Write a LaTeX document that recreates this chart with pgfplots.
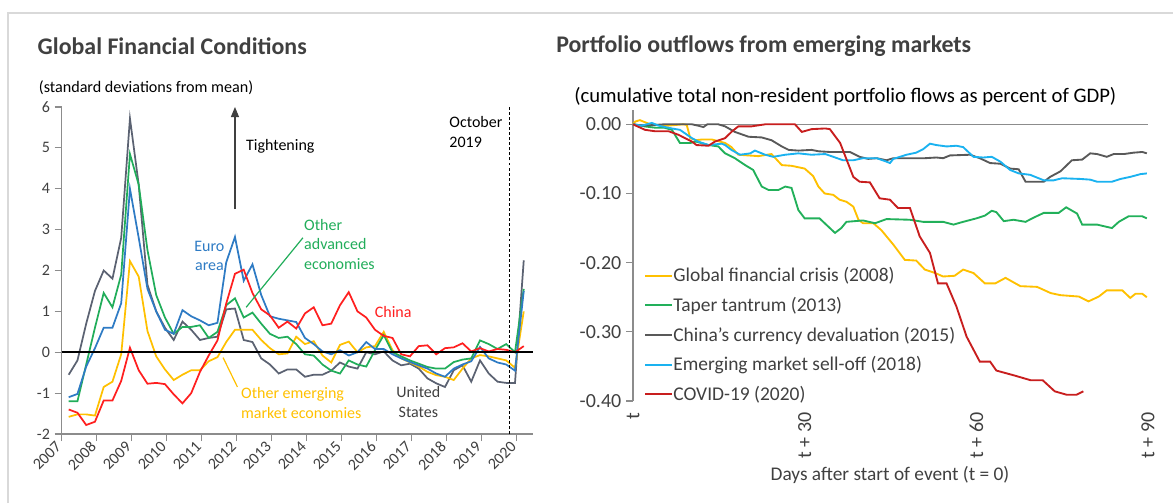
\documentclass[border=0pt]{standalone}
\usepackage{fontspec}
\setmainfont{Carlito}
\usepackage{pgfplots}
\pgfplotsset{compat=1.18}
\usepackage{pgfplotstable}
\usetikzlibrary{arrows.meta}

\definecolor{txt}{HTML}{404040}
\definecolor{axgrey}{HTML}{8C8C8C}
\definecolor{frame}{HTML}{D9D9D9}
\definecolor{euro}{HTML}{2E7BC4}
\definecolor{oadv}{HTML}{21AD5A}
\definecolor{china}{HTML}{FF1F1F}
\definecolor{oem}{HTML}{FFC000}
\definecolor{us}{HTML}{5B6272}
\definecolor{gfc}{HTML}{FFC000}
\definecolor{taper}{HTML}{22B05A}
\definecolor{deval}{HTML}{595959}
\definecolor{selloff}{HTML}{1AB2F0}
\definecolor{covid}{HTML}{C81E1E}

\newcommand\fA{\fontsize{12pt}{14.5pt}\selectfont}
\newcommand\fS{\fontsize{12.1pt}{14.5pt}\selectfont}
\newcommand\fB{\fontsize{15pt}{18pt}\selectfont}
\newcommand\fU{\fontsize{15.5pt}{18pt}\selectfont}
\newcommand\fX{\fontsize{14.5pt}{17pt}\selectfont}
\newcommand\fL{\fontsize{14.6pt}{17pt}\selectfont}
\newcommand\fT{\fontsize{17.9pt}{21pt}\selectfont\bfseries}

\pgfplotstableread{
x euro oadv china oem us
2007.20 -1.10 -1.20 -1.40 -1.58 -0.55
2007.45 -1.02 -1.20 -1.48 -1.52 -0.20
2007.70 -0.35 -0.30 -1.78 -1.52 0.70
2007.95 0.10 0.60 -1.70 -1.55 1.50
2008.20 0.60 1.45 -1.18 -0.85 2.00
2008.45 0.60 1.10 -1.18 -0.72 1.80
2008.70 1.20 1.90 -0.70 -0.05 2.80
2008.95 4.00 4.85 0.11 2.23 5.72
2009.20 2.80 4.10 -0.44 1.85 4.10
2009.45 1.55 2.50 -0.77 0.52 1.65
2009.70 1.00 1.40 -0.75 -0.10 1.00
2009.95 0.55 0.85 -0.78 -0.42 0.60
2010.20 0.45 0.45 -1.03 -0.68 0.30
2010.45 1.03 0.62 -1.25 -0.55 0.75
2010.70 0.88 0.62 -1.00 -0.44 0.55
2010.95 0.78 0.66 -0.48 -0.44 0.30
2011.20 0.66 0.35 -0.08 -0.22 0.35
2011.45 0.72 0.50 0.29 -0.12 0.38
2011.70 2.20 1.15 1.19 0.25 1.05
2011.95 2.82 1.32 1.92 0.55 1.07
2012.20 1.75 0.85 2.02 0.55 0.30
2012.45 2.15 0.97 1.45 0.55 0.25
2012.70 1.40 0.70 1.05 0.30 -0.15
2012.95 0.88 0.45 0.90 0.10 -0.30
2013.20 0.82 0.35 0.60 -0.05 -0.52
2013.45 0.78 0.38 0.75 -0.03 -0.42
2013.70 0.74 0.20 0.58 0.38 -0.42
2013.95 0.35 -0.05 0.95 0.20 -0.60
2014.20 0.20 -0.08 1.10 0.27 -0.55
2014.45 0.02 -0.30 0.66 -0.08 -0.55
2014.70 -0.05 -0.45 0.70 -0.25 -0.45
2014.95 0.05 -0.52 1.15 0.18 -0.25
2015.20 -0.08 -0.20 1.47 0.26 -0.35
2015.45 0.00 -0.30 1.00 0.00 -0.40
2015.70 0.25 -0.35 0.85 0.12 0.00
2015.95 0.08 0.05 0.55 0.15 -0.05
2016.20 0.08 0.42 0.40 0.50 0.02
2016.45 -0.05 0.00 0.35 0.05 -0.20
2016.70 -0.15 -0.10 -0.05 -0.15 -0.32
2016.95 -0.24 -0.20 -0.10 -0.25 -0.28
2017.20 -0.32 -0.28 0.15 -0.35 -0.40
2017.45 -0.40 -0.36 0.17 -0.48 -0.64
2017.70 -0.52 -0.40 -0.05 -0.56 -0.76
2017.95 -0.60 -0.40 0.10 -0.60 -0.85
2018.20 -0.40 -0.24 0.12 -0.68 -0.44
2018.45 -0.30 -0.18 0.22 -0.40 -0.32
2018.70 -0.22 -0.15 0.02 -0.15 -0.72
2018.95 0.13 0.29 0.10 -0.07 -0.20
2019.20 -0.15 0.20 0.02 -0.10 -0.52
2019.45 -0.25 0.08 0.08 -0.15 -0.72
2019.70 -0.30 0.20 0.06 -0.20 -0.75
2019.95 -0.45 0.00 0.00 -0.38 -0.75
2020.20 1.50 1.55 0.15 1.00 2.25
}\gfcdata

\pgfplotstableread{
d v
0 0
0.4 0.004
1.2 0.006
3 0.0
6 -0.002
8.8 0
9.4 -0.001
10 -0.02
11 -0.023
12 -0.022
13.8 -0.022
16.1 -0.027
17.2 -0.033
18.4 -0.044
21.9 -0.046
24.2 -0.043
26 -0.059
27.7 -0.06
30 -0.064
31.5 -0.075
32.4 -0.09
33.5 -0.1
35 -0.102
36.1 -0.109
37.3 -0.112
38.5 -0.119
39.4 -0.138
40.2 -0.143
42 -0.143
43.4 -0.153
45.5 -0.174
47.5 -0.196
49.5 -0.197
51 -0.21
52.8 -0.215
54.2 -0.22
56.2 -0.219
57.7 -0.21
59.5 -0.215
61.5 -0.23
63.3 -0.23
65.1 -0.222
67.7 -0.234
70.6 -0.235
73 -0.244
74.7 -0.247
77.9 -0.249
79.6 -0.256
81.4 -0.249
82.8 -0.24
85.5 -0.24
86.9 -0.251
87.8 -0.245
89 -0.245
89.8 -0.25
}\tgfc

\pgfplotstableread{
d v
0 0
2 -0.003
4 -0.005
5.5 -0.005
6.8 -0.008
8.2 -0.027
10 -0.027
11 -0.025
13.2 -0.03
14.9 -0.032
16.1 -0.042
17.8 -0.049
19.6 -0.059
21 -0.066
22.5 -0.09
23.7 -0.095
25.4 -0.095
26.6 -0.09
27.7 -0.092
28.9 -0.124
30 -0.136
32.6 -0.136
34.4 -0.15
35.3 -0.157
36.4 -0.15
37.3 -0.141
40.2 -0.139
42.3 -0.143
44.3 -0.137
48.4 -0.138
50.7 -0.141
54.2 -0.141
56 -0.145
57.7 -0.141
60 -0.136
61.5 -0.132
62.7 -0.125
63.5 -0.127
64.8 -0.14
66.5 -0.138
68.6 -0.141
70 -0.135
71.8 -0.128
74.4 -0.128
75.7 -0.12
77.6 -0.129
78.5 -0.145
81.1 -0.145
83.7 -0.15
84.9 -0.141
86.6 -0.133
89 -0.133
89.8 -0.136
}\ttaper

\pgfplotstableread{
d v
0 0
1.8 -0.002
5.5 0
8.4 0.0
10.3 0.0
11.4 -0.002
12.3 -0.004
13 0.0
14.9 0.0
16.1 -0.003
17.8 -0.011
20.2 -0.018
22.5 -0.019
24.2 -0.023
26 -0.032
27.2 -0.037
28.9 -0.038
31.2 -0.037
32.4 -0.039
34.4 -0.04
37.9 -0.04
39.6 -0.047
41.1 -0.05
42.6 -0.049
44.3 -0.052
45.5 -0.049
48.4 -0.049
51 -0.049
53 -0.048
54.2 -0.049
55.4 -0.045
58.9 -0.044
60.6 -0.049
62.4 -0.056
64.2 -0.057
65.9 -0.064
67.4 -0.065
68.6 -0.083
71.8 -0.083
72.9 -0.076
74.7 -0.068
76.7 -0.052
78.5 -0.051
79.9 -0.042
81.1 -0.043
82.8 -0.047
84 -0.043
85.8 -0.043
87.5 -0.041
89 -0.04
89.8 -0.042
}\tdeval

\pgfplotstableread{
d v
0 0
1.5 -0.002
3.3 0.002
4.5 -0.002
6.8 -0.006
8.2 -0.008
10.3 -0.02
11.4 -0.025
13.2 -0.03
15.5 -0.028
16.1 -0.03
17.2 -0.037
18.7 -0.044
20.5 -0.042
21.3 -0.038
23.1 -0.044
24.5 -0.047
26.6 -0.044
28.9 -0.042
31.2 -0.044
33.6 -0.043
35 -0.047
36.7 -0.052
38.5 -0.052
40.2 -0.049
42.6 -0.049
44.3 -0.054
44.9 -0.056
45.5 -0.05
47.8 -0.044
49.5 -0.041
50.7 -0.036
51.9 -0.028
53 -0.03
54.8 -0.032
56.5 -0.031
57.7 -0.033
59.5 -0.047
61.2 -0.048
62.7 -0.047
64.2 -0.054
65.9 -0.066
67.4 -0.071
69.4 -0.073
71.8 -0.081
73.5 -0.081
75 -0.078
78.2 -0.079
79.9 -0.08
81.1 -0.083
83.7 -0.083
85.2 -0.079
86.9 -0.076
88.7 -0.072
89.8 -0.071
}\tselloff

\pgfplotstableread{
d v
0 0
0.5 -0.002
2.1 -0.008
3.8 -0.01
6.2 -0.01
7.9 -0.015
10.3 -0.025
11.1 -0.03
13.2 -0.031
14.3 -0.025
16.1 -0.02
17.2 -0.011
18.4 -0.003
20.7 -0.003
23.1 0.0
25.4 0.0
28.3 0.0
29.5 -0.011
31.2 -0.007
33.6 -0.006
34.4 -0.007
36.2 -0.027
38.5 -0.076
39.6 -0.083
41.4 -0.084
43.1 -0.107
44.9 -0.109
46.3 -0.121
48.4 -0.121
50.1 -0.162
51.9 -0.186
53.3 -0.23
54.8 -0.23
56.5 -0.263
58.3 -0.307
60.6 -0.343
62.4 -0.343
63.5 -0.356
66.6 -0.363
69.5 -0.37
71.6 -0.37
73.7 -0.386
75.8 -0.391
77.5 -0.391
78.7 -0.386
}\tcovid

\begin{document}
\begin{tikzpicture}
\path[use as bounding box] (0pt,0pt) rectangle (879.75pt,377.25pt);
\draw[frame, line width=1.5pt] (6pt,0pt) -- (6pt,367.5pt) -- (879.75pt,367.5pt);

% titles
\node[anchor=west, inner sep=0pt, font=\fT, text=txt] at (28.1pt,342.75pt) {Global Financial Conditions};
\node[anchor=west, inner sep=0pt, font=\fT, text=txt] at (417pt,342.75pt) {Portfolio outflows from emerging markets};
\node[anchor=west, inner sep=0pt, font=\fS, text=black] at (28.95pt,311.25pt) {(standard deviations from mean)};
\node[anchor=west, inner sep=0pt, font=\fU, text=black] at (430.5pt,304.7pt) {(cumulative total non-resident portfolio flows as percent of GDP)};
\node[inner sep=0pt, font=\fX, text=txt] at (667.5pt,21pt) {Days after start of event (t = 0)};

% ---------- left chart ----------
\begin{axis}[
  at={(46.275pt,51.75pt)}, anchor=south west, scale only axis,
  width=353.1pt, height=245.25pt,
  xmin=2007, xmax=2020.45, ymin=-2, ymax=6,
  axis x line*=bottom, axis y line*=left,
  axis line style={-, axgrey, line width=0.9pt},
  xtick={2007,...,2020}, ytick={-2,...,6},
  tick align=outside, major tick length=5.25pt,
  tick style={axgrey, line width=0.9pt},
  /pgf/number format/assume math mode=true,
  /pgf/number format/1000 sep={},
  ticklabel style={font=\fA, text=txt},
  xticklabel style={rotate=45, anchor=east},
  clip=false,
]
\addplot[us, line width=1.3pt] table[x=x, y=us] {\gfcdata};
\addplot[oem, line width=1.3pt] table[x=x, y=oem] {\gfcdata};
\addplot[oadv, line width=1.3pt] table[x=x, y=oadv] {\gfcdata};
\addplot[euro, line width=1.3pt] table[x=x, y=euro] {\gfcdata};
\addplot[china, line width=1.3pt] table[x=x, y=china] {\gfcdata};
\addplot[black, line width=1.5pt] coordinates {(2007,0) (2020.45,0)};
\addplot[black, line width=0.9pt, dash pattern=on 2.2pt off 1.6pt] coordinates {(2019.8,-2) (2019.8,6)};
\draw[black!75, line width=0.8pt, -{Triangle[length=7.5pt,width=6pt]}] (axis cs:2011.95,3.5) -- (axis cs:2011.95,6.0);
\node[anchor=west, inner sep=0pt, font=\fA, text=black] at (axis cs:2012.26,5.05) {Tightening};
\node[anchor=west, inner sep=0pt, font=\fA, text=black] at (axis cs:2018.07,5.63) {October};
\node[anchor=west, inner sep=0pt, font=\fA, text=black] at (axis cs:2018.07,5.14) {2019};
\node[align=center, inner sep=0pt, font=\fA, text=euro] at (axis cs:2011.22,2.36) {Euro\\area};
\node[anchor=west, align=left, inner sep=0pt, font=\fA, text=oadv] at (axis cs:2013.92,2.64) {Other\\advanced\\economies};
\draw[oadv, line width=0.9pt] (axis cs:2013.89,2.80) -- (axis cs:2012.27,1.10);
\node[inner sep=0pt, font=\fA, text=china] at (axis cs:2016.47,0.98) {China};
\node[anchor=west, align=left, inner sep=0pt, font=\fA, text=oem] at (axis cs:2012.12,-1.24) {Other emerging\\market economies};
\draw[oem, line width=0.9pt] (axis cs:2011.61,-0.13) -- (axis cs:2012.02,-0.85);
\node[align=center, inner sep=0pt, font=\fA, text=txt] at (axis cs:2017.19,-1.22) {United\\States};
\end{axis}

% ---------- right chart ----------
\begin{axis}[
  at={(474.75pt,76.5pt)}, anchor=south west, scale only axis,
  width=386.25pt, height=217.9pt,
  xmin=0, xmax=90, ymin=-0.40, ymax=0.02,
  axis x line*=bottom, axis y line*=left,
  x axis line style={draw=none},
  y axis line style={-, axgrey, line width=0.9pt},
  xtick={0,30,60,90}, xticklabels={t,t + 30,t + 60,t + 90},
  ytick={-0.4,-0.3,-0.2,-0.1,0},
  tick align=outside, major tick length=5.25pt,
  ytick style={axgrey, line width=0.9pt},
  xtick style={draw=none},
  /pgf/number format/assume math mode=true,
  yticklabel style={/pgf/number format/fixed, /pgf/number format/fixed zerofill, /pgf/number format/precision=2},
  ticklabel style={font=\fB, text=txt},
  xticklabel style={rotate=90, anchor=east},
  clip=false,
  legend style={at={(axis cs:1.9,-0.206)}, anchor=north west, draw=none, fill=none,
    font=\fL, text=txt, row sep=9pt, inner sep=0pt, nodes={inner sep=0.5pt}},
  legend cell align=left,
  legend image code/.code={\draw[#1, line width=1.4pt] (0pt,0pt) -- (20pt,0pt);},
]
\addplot[axgrey, line width=1.2pt, forget plot] coordinates {(0,0) (90,0)};
\addplot[gfc, line width=1.4pt] table[x=d, y=v] {\tgfc};
\addlegendentry{Global financial crisis (2008)}
\addplot[taper, line width=1.4pt] table[x=d, y=v] {\ttaper};
\addlegendentry{Taper tantrum (2013)}
\addplot[deval, line width=1.4pt] table[x=d, y=v] {\tdeval};
\addlegendentry{China's currency devaluation (2015)}
\addplot[selloff, line width=1.4pt] table[x=d, y=v] {\tselloff};
\addlegendentry{Emerging market sell-off (2018)}
\addplot[covid, line width=1.4pt] table[x=d, y=v] {\tcovid};
\addlegendentry{COVID-19 (2020)}
\end{axis}
\end{tikzpicture}
\end{document}
